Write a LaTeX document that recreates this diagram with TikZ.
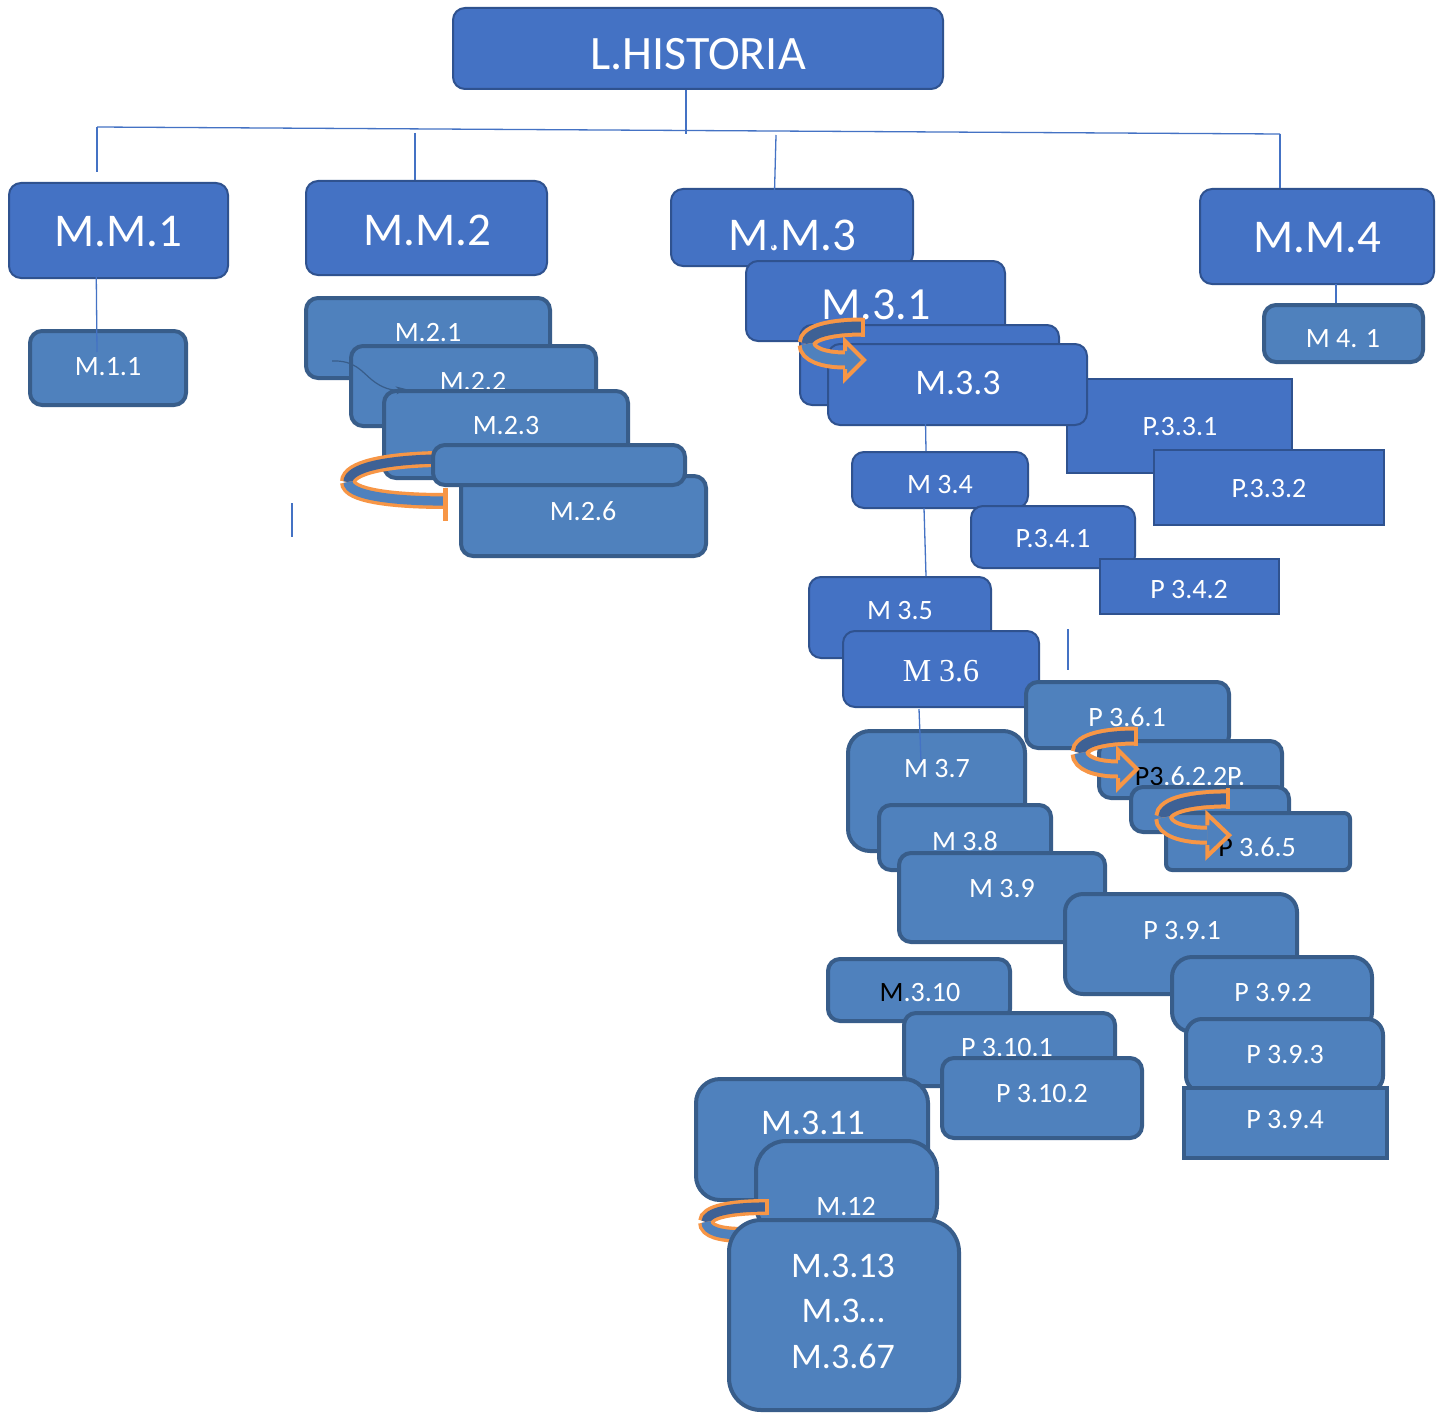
\documentclass[tikz,border=0pt]{standalone}
\usepackage{fontspec}
\setmainfont{Carlito}
\newfontfamily\timesfont{Liberation Serif}
\usetikzlibrary{arrows.meta}

\definecolor{mainfill}{HTML}{4472C4}
\definecolor{mainedge}{HTML}{2F528F}
\definecolor{litefill}{HTML}{4F81BD}
\definecolor{liteedge}{HTML}{385D8A}
\definecolor{linkblue}{HTML}{4472C4}
\definecolor{ribor}{HTML}{F79646}
\definecolor{ribdark}{HTML}{3E6195}
\definecolor{riblite}{HTML}{4F81BD}

% box from its corners (in px): style, name, x1, y1, x2, y2
\newcommand\bx[6]{\node[#1, minimum width={(#5-#3)*0.5pt}, minimum height={(#6-#4)*0.5pt}] (#2) at ({(#3+#5)/2},{(#4+#6)/2}) {};}
% label: style, name, x, y, text
\newcommand\tx[5]{\node[#1] (#2) at (#3,#4) {#5};}

% turning ribbon arrow: x, y of the upper right end, xscale, yscale
\newcommand\turnarrow[4]{%
  \begin{scope}[shift={(#1,#2)}, xscale=#3, yscale=#4]
    \draw[rib, double=ribdark] (0,9) .. controls (-30,9) and (-56,14) .. (-56,26);
    \draw[rib, double=riblite] (-56,26) .. controls (-56,36) and (-40,42) .. (-18,42);
    \fill[riblite] (-18,23) -- (1,42) -- (-18,61) -- cycle;
    \draw[ribedge] (-18,33) -- (-18,23) -- (1,42) -- (-18,61) -- (-18,51);
    \draw[ribedge] (0,-0.5) -- (0,18.5);
  \end{scope}}

\begin{document}
\begin{tikzpicture}[x=0.5pt, y=-0.5pt,
  mainbox/.style={draw=mainedge, fill=mainfill, line width=1pt, rounded corners=6pt, inner sep=0pt},
  mainsq/.style={mainbox, sharp corners},
  litebox/.style={draw=liteedge, fill=litefill, line width=2pt, rounded corners=6pt, inner sep=0pt},
  litesq/.style={litebox, sharp corners},
  lbl/.style={text=white, inner sep=0pt, anchor=center, font=\fontsize{14}{16}\selectfont},
  lblbig/.style={lbl, font=\fontsize{23.5}{28}\selectfont},
  lblmid/.style={lbl, font=\fontsize{18}{22.75}\selectfont},
  link/.style={draw=linkblue, line width=0.65pt},
  rib/.style={draw=ribor, line width=2pt, double distance=5.5pt},
  rib2/.style={draw=ribor, line width=1.7pt, double distance=4.6pt},
  ribedge/.style={draw=ribor, line width=2pt, line join=miter},
]
\fill[white] (0,0) rectangle (1443,1412);
\useasboundingbox (0,0) rectangle (1443,1412);

% ---------- root ----------
\bx{mainbox}{lh}{453}{8}{943}{89}
\tx{lbl, font=\fontsize{24}{28}\selectfont}{lh-t}{698}{54}{L.HISTORIA}

% ---------- first level ----------
\bx{mainbox}{mm1}{9}{183}{228}{278}
\tx{lblbig}{mm1-t}{118}{232}{M.M.1}
\bx{mainbox}{mm2}{306}{181}{547}{275}
\tx{lblbig}{mm2-t}{427}{230}{M.M.2}
\bx{mainbox}{mm3}{671}{189}{913}{266}
\tx{lblbig}{mm3-t}{792}{235}{M.M.3}
\bx{mainbox}{mm4}{1200}{189}{1434}{284}
\tx{lblbig}{mm4-t}{1317}{238}{M.M.4}

% ---------- branch 1 ----------
\bx{litebox}{m11}{30}{331}{186}{405}
\tx{lbl}{m11-t}{108}{367}{M.1.1}

% ---------- branch 2 ----------
\bx{litebox}{m21}{306}{298}{550}{378}
\tx{lbl}{m21-t}{428}{333}{M.2.1}
\bx{litebox}{m22}{351}{346}{596}{426}
\tx{lbl}{m22-t}{473}{382}{M.2.2}
\bx{litebox}{m23}{384}{391}{628}{478}
\tx{lbl}{m23-t}{506}{426}{M.2.3}
% flat-ended loop
\draw[rib2, double=ribdark] (437,459) .. controls (385,460) and (348,468) .. (348,482);
\draw[rib2, double=riblite] (348,482) .. controls (348,495) and (390,501) .. (445,501);
\draw[ribor, line width=2.5pt] (445.5,488) -- (445.5,521);
\bx{litebox}{m26}{461}{476}{706}{556}
\tx{lbl}{m26-t}{583}{511}{M.2.6}
\bx{litebox}{m24}{433}{445}{685}{485}

% ---------- branch 3 ----------
\bx{mainbox}{m31}{746}{261}{1005}{341}
\tx{lbl, font=\fontsize{23}{28}\selectfont}{m31-t}{876}{305}{M.3.1}
\bx{mainbox}{m32}{800}{325}{1059}{405}
\bx{mainsq}{p331}{1067}{379}{1292}{473}
\tx{lbl}{p331-t}{1180}{427}{P.3.3.1}
\bx{mainsq}{p332}{1154}{450}{1384}{525}
\tx{lbl}{p332-t}{1269}{489}{P.3.3.2}
\bx{mainbox}{m33}{828}{344}{1087}{425}
\tx{lblmid}{m33-t}{958}{383}{M.3.3}
\turnarrow{863}{318}{1}{1}

\bx{mainbox}{m34}{852}{452}{1028}{508}
\tx{lbl}{m34-t}{940}{485}{M 3.4}
\bx{mainbox}{p341}{971}{506}{1135}{568}
\tx{lbl}{p341-t}{1053}{539}{P.3.4.1}
\bx{mainsq}{p342}{1100}{559}{1279}{614}
\tx{lbl}{p342-t}{1189}{590}{P 3.4.2}
\bx{mainbox}{m35}{809}{577}{991}{658}
\tx{lbl}{m35-t}{900}{611}{M 3.5}
\bx{mainbox}{m36}{843}{631}{1039}{707}
\tx{lbl, font=\timesfont\fontsize{16}{18}\selectfont}{m36-t}{941}{671}{M 3.6}

\bx{litebox}{p361}{1026}{682}{1229}{748}
\tx{lbl}{p361-t}{1127}{717}{P 3.6.1}
\bx{litebox}{p362}{1099}{741}{1282}{798}
\tx{lbl}{p362-t}{1190}{776}{\textcolor{black}{P3}.6.2.2P.}
\turnarrow{1136}{727}{1}{1}
\bx{litebox}{p363}{1131}{787}{1289}{832}
\bx{litebox, rounded corners=3pt}{p365}{1166}{813}{1350}{870}
\tx{lbl}{p365-t}{1257}{847}{\textcolor{black}{P} 3.6.5}
\turnarrow{1228}{789}{1.15}{1.1}

\bx{litebox, rounded corners=11pt}{m37}{848}{731}{1025}{851}
\tx{lbl}{m37-t}{937}{769}{M 3.7}
\bx{litebox}{m38}{879}{805}{1051}{870}
\tx{lbl}{m38-t}{965}{841}{M 3.8}
\bx{litebox}{m39}{899}{853}{1105}{942}
\tx{lbl}{m39-t}{1002}{889}{M 3.9}
\bx{litebox, rounded corners=9pt}{p391}{1065}{894}{1297}{994}
\tx{lbl}{p391-t}{1182}{931}{P 3.9.1}
\bx{litebox, rounded corners=10pt}{p392}{1172}{957}{1372}{1032}
\tx{lbl}{p392-t}{1273}{993}{P 3.9.2}
\bx{litebox, rounded corners=8pt}{p393}{1186}{1019}{1383}{1092}
\tx{lbl}{p393-t}{1285}{1055}{P 3.9.3}
\bx{litesq}{p394}{1184}{1088}{1387}{1158}
\tx{lbl}{p394-t}{1285}{1120}{P 3.9.4}

\bx{litebox}{m310}{828}{959}{1010}{1021}
\tx{lbl}{m310-t}{920}{993}{\textcolor{black}{M}.3.10}
\bx{litebox}{p3101}{904}{1013}{1115}{1086}
\tx{lbl}{p3101-t}{1007}{1048}{P 3.10.1}
\bx{litebox}{p3102}{942}{1058}{1142}{1138}
\tx{lbl}{p3102-t}{1042}{1094}{P 3.10.2}

\bx{litebox, rounded corners=12pt}{m311}{696}{1079}{928}{1200}
\tx{lblmid}{m311-t}{813}{1123}{M.3.11}
\bx{litebox, rounded corners=15pt}{m312}{756}{1141}{937}{1235}
\tx{lbl}{m312-t}{846}{1207}{M.12}
% loop behind the last box
\draw[rib2, double=ribdark] (767,1207) .. controls (730,1207) and (706,1212) .. (706,1222);
\draw[rib2, double=riblite] (706,1222) .. controls (706,1231) and (720,1235) .. (745,1235);
\draw[ribedge] (767,1199) -- (767,1215);
\bx{litebox, rounded corners=16pt}{m313}{729}{1220}{959}{1410}
\tx{lblmid, align=center}{m313-t}{843}{1311}{M.3.13\\M.3…\\M.3.67}

% ---------- branch 4 ----------
\bx{litebox}{m41}{1264}{305}{1423}{362}
\tx{lbl}{m41-t}{1343}{339}{M 4. 1}

% ---------- connectors ----------
\coordinate (trunk) at (686,134);
\coordinate (barL) at (97,127);
\coordinate (barR) at (1280,134);
\coordinate (s1) at (97,172);
\coordinate (s2) at (415,133);
\coordinate (s3a) at (776,135);
\coordinate (s3b) at (773,248);
\coordinate (k1a) at (96,248);
\coordinate (k1b) at (97,352);
\coordinate (k2a) at (507,218);
\coordinate (k2b) at (512,260);
\coordinate (k4) at (1336,284);
\coordinate (k33) at (925,393);
\coordinate (k34) at (924,508);
\coordinate (k36a) at (919,709);
\coordinate (k36b) at (921,762);
\coordinate (stubA) at (1068,629);
\coordinate (stubB) at (1068,670);
\coordinate (stubC) at (292,503);
\coordinate (stubD) at (292,537);
\coordinate (c21) at (332,361);

\draw[link] (lh.south -| trunk) -- (trunk);
\draw[link] (barL) -- (barR);
\draw[link] (barL) -- (s1);
\draw[link] (s2) -- (s2 |- mm2.north);
\draw[link] (s3a) -- (s3b);
\draw[link] (barR) -- (barR |- mm4.north);
\draw[link] (k1a) -- (k1b);
\draw[link] (k2a) -- (k2b);
\draw[link] (k4) -- (k4 |- m41.north);
\draw[link] (k33) -- (m34.north -| 926,0);
\draw[link] (k34) -- (m35.north -| 926,0);
\draw[link] (k36a) -- (k36b);
\draw[link] (stubA) -- (stubB);
\draw[link] (stubC) -- (stubD);
\draw[draw=liteedge, line width=0.6pt, -{Stealth[length=5pt,width=4pt]}]
  (c21) .. controls (355,360) and (362,372) .. (372,380)
        .. controls (382,388) and (392,391) .. (m23.north west -| 406,0);
\end{tikzpicture}
\end{document}
